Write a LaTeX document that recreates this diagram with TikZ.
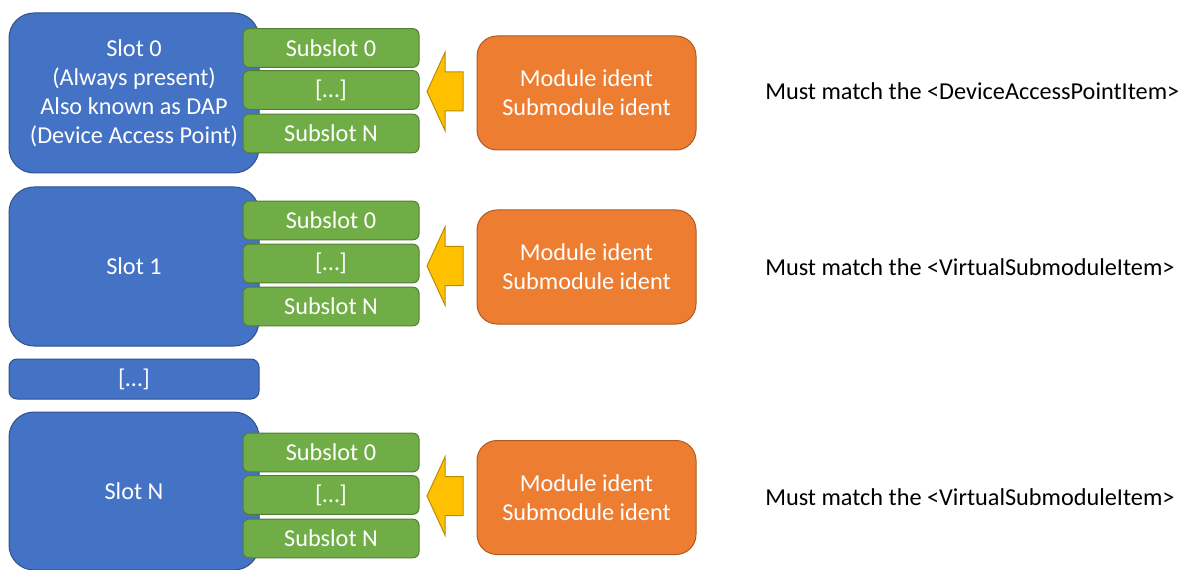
\documentclass[tikz,border=0pt]{standalone}
\usepackage{fontspec}
\setmainfont{Carlito}
\definecolor{slotblue}{HTML}{4472C4}
\definecolor{slotedge}{HTML}{2F528F}
\definecolor{subgreen}{HTML}{70AD47}
\definecolor{subedge}{HTML}{507E32}
\definecolor{modorange}{HTML}{ED7D31}
\definecolor{modedge}{HTML}{AE5A21}
\definecolor{arrowyellow}{HTML}{FFC000}
\definecolor{arrowedge}{HTML}{BC8C00}
\tikzset{
  base/.style={inner sep=0pt, outer sep=0pt, align=center, text=white,
    font=\fontsize{18.2}{21.75}\selectfont, line width=0.75pt},
  slotbox/.style={base, draw=slotedge, fill=slotblue, rounded corners=18.75pt,
    minimum width=187.5pt},
  gapbox/.style={base, draw=slotedge, fill=slotblue, rounded corners=6pt,
    minimum width=187.5pt, minimum height=30pt},
  subbox/.style={base, draw=subedge, fill=subgreen, rounded corners=4.5pt,
    minimum width=132pt, minimum height=29pt},
  modbox/.style={base, draw=modedge, fill=modorange, rounded corners=15pt,
    minimum width=164.25pt, minimum height=85.5pt},
  pusharrow/.style={draw=arrowedge, fill=arrowyellow, line width=0.75pt, line join=miter},
  note/.style={inner sep=0pt, anchor=west, text=black,
    font=\fontsize{18.2}{21.75}\selectfont}
}
\begin{document}
\begin{tikzpicture}[x=0.75pt, y=-0.75pt]
\useasboundingbox (0,0) rectangle (1184,570);

% slots
\node[slotbox, minimum height=120pt] (slot0) at (134,93)
  {\rule{0pt}{4pt}Slot 0\\(Always present)\\Also known as DAP\\(Device Access Point)};
\node[slotbox, minimum height=119.25pt] (slot1) at (134,266.5) {Slot 1};
\node[gapbox] (slotgap) at (134,379) {[…]};
\node[slotbox, minimum height=118.5pt] (slotN) at (134,491) {Slot N};

% subslots
\node[subbox] (a0) at (331,48)    {Subslot 0};
\node[subbox] (a1) at (331,90)    {[…]};
\node[subbox] (aN) at (331,133.5) {Subslot N};
\node[subbox] (b0) at (331,220.5) {Subslot 0};
\node[subbox] (b1) at (331,263.5) {[…]};
\node[subbox] (bN) at (331,306.5) {Subslot N};
\node[subbox] (c0) at (331,452.5) {Subslot 0};
\node[subbox] (c1) at (331,495)   {[…]};
\node[subbox] (cN) at (331,538.5) {Subslot N};

% module identification boxes
\node[modbox] (m0) at (586.5,93)   {Module ident\\Submodule ident};
\node[modbox] (m1) at (586.5,267)  {Module ident\\Submodule ident};
\node[modbox] (m2) at (586.5,497.5){Module ident\\Submodule ident};

% block arrows from module boxes to subslots
\foreach \c in {91.5,266,496}{
  \draw[pusharrow] (427,\c) -- (445,\c-39) -- (445,\c-19.5) -- (463,\c-19.5)
    -- (463,\c+19.5) -- (445,\c+19.5) -- (445,\c+39) -- cycle;
}

% notes
\node[note] (n0) at (765,91)  {Must match the <DeviceAccessPointItem>};
\node[note] (n1) at (765,267) {Must match the <VirtualSubmoduleItem>};
\node[note] (n2) at (765,497) {Must match the <VirtualSubmoduleItem>};
\end{tikzpicture}
\end{document}
